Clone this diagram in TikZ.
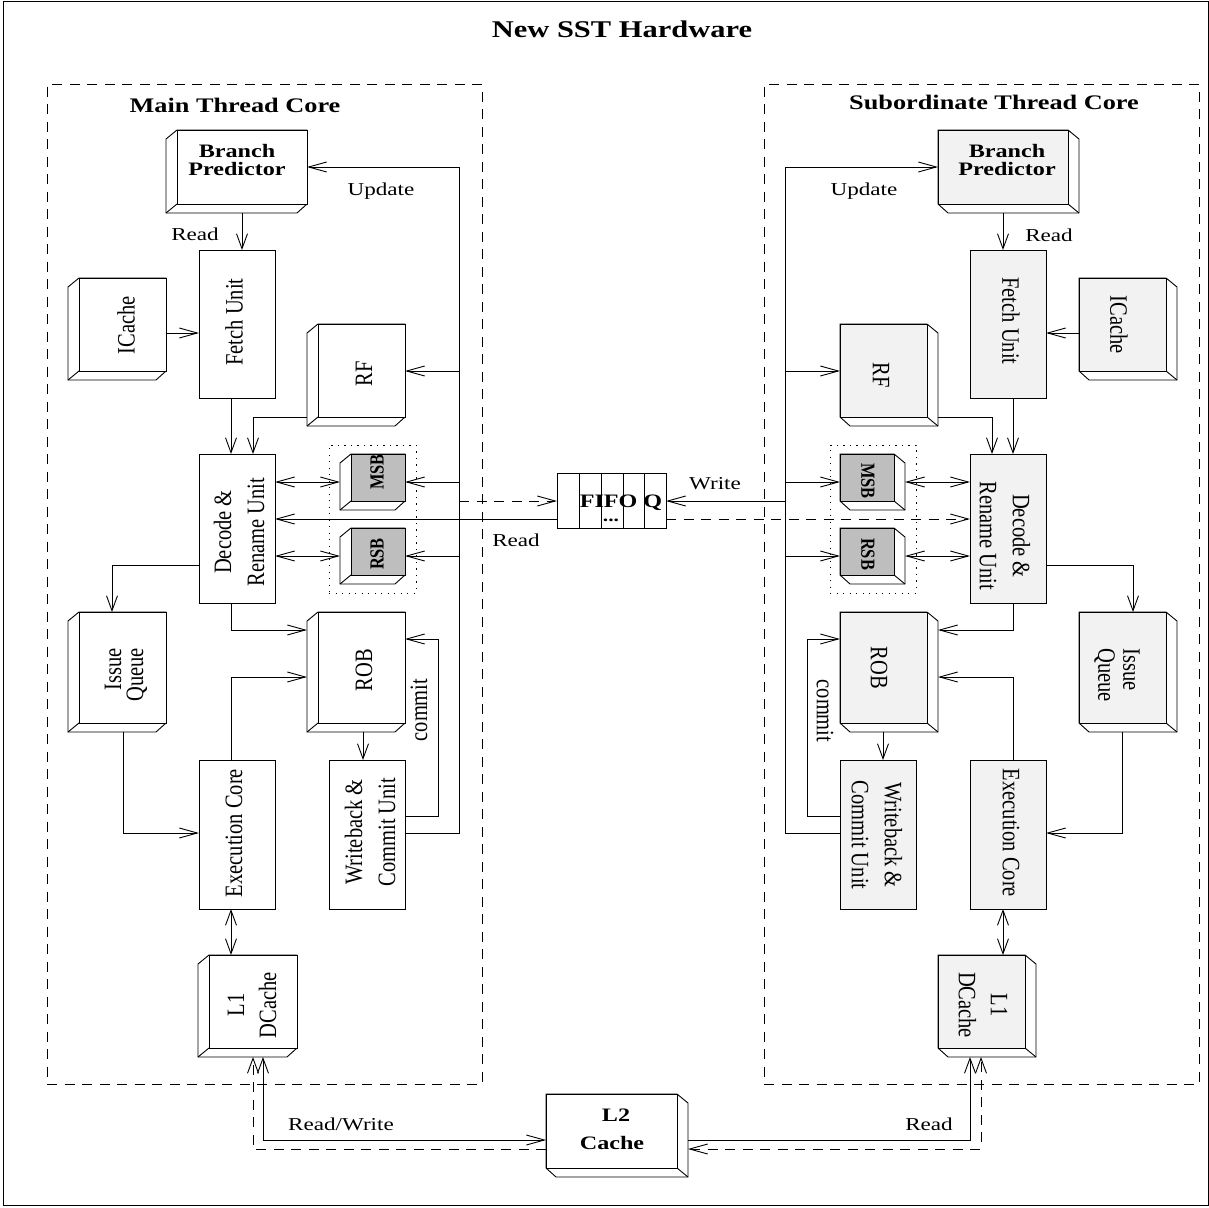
\documentclass[tikz,border=0pt]{standalone}
\usepackage{fontspec}
\setmainfont{Liberation Serif}
\newfontfamily\flatfont[FakeStretch=1.27]{Liberation Serif}
\newfontfamily\tallfont[FakeStretch=0.82]{Liberation Serif}
\usetikzlibrary{arrows.meta,fit}
\definecolor{subfill}{gray}{0.95}
\definecolor{regfill}{gray}{0.745}
\tikzset{
  every path/.style={line width=0.9pt},
  tipH/.tip={Straight Barb[length=18pt,width=10pt]},
  tipV/.tip={Straight Barb[length=15pt,width=11pt]},
  dashline/.style={dash pattern=on 10pt off 7.5pt},
  corebox/.style={draw,dashline,inner sep=0pt,outer sep=0pt},
  groupbox/.style={draw,dash pattern=on 1.3pt off 5.2pt,inner sep=0pt,outer sep=0pt},
  plainbox/.style={draw,inner sep=0pt,outer sep=0pt},
  ghostbox/.style={inner sep=0pt,outer sep=0pt},
  flat/.style={font=\flatfont\fontsize{18.2}{21}\selectfont,inner sep=0pt},
  head/.style={font=\flatfont\bfseries\fontsize{#1}{17.5}\selectfont,inner sep=0pt,align=center},
  uptext/.style={rotate=90,font=\tallfont\fontsize{25}{#1}\selectfont,inner sep=0pt,align=center},
  downtext/.style={rotate=-90,font=\tallfont\fontsize{25}{#1}\selectfont,inner sep=0pt,align=center},
  regtext/.style={font=\tallfont\bfseries\fontsize{20}{25}\selectfont},
}
% plain unit: name, corner, corner, fill
\newcommand{\unitblock}[4]{\node[plainbox,fill=#4,fit={(#2)(#3)}] (#1) {};}
% cube with its depth to the lower left
\newcommand{\cubeleft}[4]{
  \node[ghostbox,fit={(#2)(#3)}] (#1) {};
  \draw[fill=white] ([yshift=-9pt]#1.north west) -- ([xshift=11pt]#1.north west) -- (#1.north east)
    -- ([yshift=9pt]#1.south east) -- ([xshift=-10pt]#1.south east) -- (#1.south west) -- cycle;
  \draw[fill=#4] ([xshift=11pt]#1.north west) rectangle ([yshift=9pt]#1.south east);
  \draw ([xshift=11pt,yshift=9pt]#1.south west) -- (#1.south west);
}
% cube with its depth to the lower right
\newcommand{\cuberight}[4]{
  \node[ghostbox,fit={(#2)(#3)}] (#1) {};
  \draw[fill=white] (#1.north west) -- ([xshift=-11pt]#1.north east) -- ([yshift=-9pt]#1.north east)
    -- (#1.south east) -- ([xshift=10pt]#1.south west) -- ([yshift=9pt]#1.south west) -- cycle;
  \draw[fill=#4] (#1.north west) rectangle ([xshift=-11pt,yshift=9pt]#1.south east);
  \draw ([xshift=-11pt,yshift=9pt]#1.south east) -- (#1.south east);
}
\begin{document}
\begin{tikzpicture}[x=1pt,y=-1pt]
\useasboundingbox (0,0) rectangle (1209,1207);
\node[plainbox,fit={(3,1)(1208,1205)}] (frame) {};
\node[head=24] (title) at (622,29) {New SST Hardware};
\node[corebox,fit={(47,84)(482,1084)}] (mainCore) {};
\node[corebox,fit={(764,84)(1199,1084)}] (subCore) {};
\node[head=20.7] (mainName) at (235,105) {Main Thread Core};
\node[head=20.7] (subName) at (994,102) {Subordinate Thread Core};
\node[groupbox,fit={(329,445)(416,593)}] (groupL) {};
\node[groupbox,fit={(830,445)(916,593)}] (groupR) {};

% main thread core
\cubeleft{bpL}{166,130}{307,213}{white}
\unitblock{fetchL}{199,250}{275,398}{white}
\cubeleft{icacheL}{68,278}{166,380}{white}
\cubeleft{rfL}{307,324}{405,426}{white}
\unitblock{decodeL}{199,454}{275,603}{white}
\cubeleft{msbL}{340,454}{405,510}{regfill}
\cubeleft{rsbL}{340,528}{405,584}{regfill}
\cubeleft{iqL}{68,612}{166,732}{white}
\cubeleft{robL}{307,612}{405,732}{white}
\unitblock{execL}{199,760}{275,909}{white}
\unitblock{wbL}{329,760}{405,909}{white}
\cubeleft{dcacheL}{198,955}{297,1057}{white}

% subordinate thread core
\cuberight{bpR}{938,130}{1079,213}{subfill}
\unitblock{fetchR}{970,250}{1046,398}{subfill}
\cuberight{icacheR}{1079,278}{1177,380}{subfill}
\cuberight{rfR}{840,324}{938,426}{subfill}
\unitblock{decodeR}{970,454}{1046,603}{subfill}
\cuberight{msbR}{840,454}{905,510}{regfill}
\cuberight{rsbR}{840,528}{905,584}{regfill}
\cuberight{iqR}{1079,612}{1177,732}{subfill}
\cuberight{robR}{840,612}{938,732}{subfill}
\unitblock{execR}{970,760}{1046,909}{subfill}
\unitblock{wbR}{840,760}{916,909}{subfill}
\cuberight{dcacheR}{938,955}{1036,1057}{subfill}

% shared parts
\cuberight{ltwo}{546,1094}{688,1177}{white}
\unitblock{fifo}{557,473}{666,528}{white}
\foreach \x/\n in {579/a,601/b,623/c,644/d}
  \coordinate (fifo\n) at (\x,473);
\foreach \n in {a,b,c,d}
  \draw (fifo\n) -- (fifo\n |- fifo.south);

% labels
\node[head=19] (bpLtext) at (237,160) {Branch\\Predictor};
\node[head=19] (bpRtext) at (1007,160) {Branch\\Predictor};
\node[uptext=25] (icacheLtext) at (126,325) {ICache};
\node[downtext=25] (icacheRtext) at (1119,325) {ICache};
\node[uptext=25] (fetchLtext) at (234,322) {Fetch Unit};
\node[downtext=25] (fetchRtext) at (1011,321) {Fetch Unit};
\node[uptext=25] (rfLtext) at (364,374) {RF};
\node[downtext=25] (rfRtext) at (881,375) {RF};
\node[uptext=33] (decodeLtext) at (239,532) {Decode \&\\Rename Unit};
\node[downtext=33] (decodeRtext) at (1005,536) {Decode \&\\Rename Unit};
\node[uptext=25,regtext] (msbLtext) at (377,472) {MSB};
\node[uptext=25,regtext] (rsbLtext) at (377,554) {RSB};
\node[downtext=25,regtext] (msbRtext) at (868,481) {MSB};
\node[downtext=25,regtext] (rsbRtext) at (868,554) {RSB};
\node[uptext=22,align=right] (iqLtext) at (126,675) {Issue\\Queue};
\node[downtext=25,align=left] (iqRtext) at (1117,675) {Issue\\Queue};
\node[uptext=25] (robLtext) at (364,670) {ROB};
\node[downtext=25] (robRtext) at (879,668) {ROB};
\node[uptext=25] (commitLtext) at (419,710) {commit};
\node[downtext=25] (commitRtext) at (825,711) {commit};
\node[uptext=25] (execLtext) at (234,833) {Execution Core};
\node[downtext=25] (execRtext) at (1011,833) {Execution Core};
\node[uptext=33] (wbLtext) at (370,832) {Writeback \&\\Commit Unit};
\node[downtext=33] (wbRtext) at (877,835) {Writeback \&\\Commit Unit};
\node[uptext=32] (dcacheLtext) at (252,1005) {L1\\DCache};
\node[downtext=32] (dcacheRtext) at (983,1005) {L1\\DCache};
\node[head=19,font=\flatfont\bfseries\fontsize{19}{28}\selectfont] (ltwotext) at (612,1129) {\hspace*{8pt}L2\\Cache};
\node[head=19] (fifotext) at (621,503) {FIFO Q};
\node[head=17] (fifodots) at (611,520) {...};
\node[flat] (readBpL) at (195,234) {Read};
\node[flat] (readBpR) at (1049,235) {Read};
\node[flat] (updateL) at (381,191) {Update};
\node[flat] (updateR) at (864,191) {Update};
\node[flat] (writeFifo) at (715,484) {Write};
\node[flat] (readFifo) at (516,540) {Read};
\node[flat] (readWrite) at (341,1124) {Read/Write};
\node[flat] (readLtwo) at (929,1124) {Read};

% main thread core connectors
\coordinate (busLt) at (459,167);
\coordinate (busLb) at (459,833);
\draw[-{tipH}] (wbL.east |- busLb) -- (busLb) -- (busLt) -- (bpL.east |- busLt);
\draw[-{tipH}] (busLb |- 0,371) -- (rfL.east |- 0,371);
\draw[-{tipH}] (busLb |- 0,482) -- (msbL.east |- 0,482);
\draw[-{tipH}] (busLb |- 0,556) -- (rsbL.east |- 0,556);
\draw[-{tipV}] (bpL.south -| 242,0) -- (fetchL.north -| 242,0);
\draw[-{tipH}] (icacheL.east |- 0,333) -- (fetchL.west |- 0,333);
\draw[-{tipV}] (fetchL.south -| 231,0) -- (decodeL.north -| 231,0);
\draw[-{tipV}] (rfL.west |- 0,417) -- (253,417) -- (decodeL.north -| 253,0);
\draw[{tipH}-{tipH}] (decodeL.east |- 0,482) -- (msbL.west |- 0,482);
\draw[{tipH}-{tipH}] (decodeL.east |- 0,556) -- (rsbL.west |- 0,556);
\draw[-{tipV}] (decodeL.west |- 0,565) -- (112,565) -- (iqL.north -| 112,0);
\draw[-{tipH}] (decodeL.south -| 231,0) -- (231,630) -- (robL.west |- 0,630);
\draw[-{tipH}] (iqL.south -| 123,0) -- (123,833) -- (execL.west |- 0,833);
\draw[-{tipH}] (execL.north -| 231,0) -- (231,677) -- (robL.west |- 0,677);
\draw[-{tipV}] (robL.south -| 363,0) -- (wbL.north -| 363,0);
\draw[-{tipH}] (wbL.east |- 0,816) -- (438,816) -- (438,639) -- (robL.east |- 0,639);
\draw[{tipV}-{tipV}] (execL.south -| 231,0) -- (dcacheL.north -| 231,0);

% subordinate thread core connectors
\coordinate (busRt) at (785,167);
\coordinate (busRb) at (785,833);
\draw[-{tipH}] (wbR.west |- busRb) -- (busRb) -- (busRt) -- (bpR.west |- busRt);
\draw[-{tipH}] (busRb |- 0,371) -- (rfR.west |- 0,371);
\draw[-{tipH}] (busRb |- 0,482) -- (msbR.west |- 0,482);
\draw[-{tipH}] (busRb |- 0,556) -- (rsbR.west |- 0,556);
\draw[-{tipV}] (bpR.south -| 1003,0) -- (fetchR.north -| 1003,0);
\draw[-{tipH}] (icacheR.west |- 0,333) -- (fetchR.east |- 0,333);
\draw[-{tipV}] (fetchR.south -| 1013,0) -- (decodeR.north -| 1013,0);
\draw[-{tipV}] (rfR.east |- 0,417) -- (992,417) -- (decodeR.north -| 992,0);
\draw[{tipH}-{tipH}] (decodeR.west |- 0,482) -- (msbR.east |- 0,482);
\draw[{tipH}-{tipH}] (decodeR.west |- 0,556) -- (rsbR.east |- 0,556);
\draw[-{tipV}] (decodeR.east |- 0,565) -- (1133,565) -- (iqR.north -| 1133,0);
\draw[-{tipH}] (decodeR.south -| 1013,0) -- (1013,630) -- (robR.east |- 0,630);
\draw[-{tipH}] (iqR.south -| 1122,0) -- (1122,833) -- (execR.east |- 0,833);
\draw[-{tipH}] (execR.north -| 1013,0) -- (1013,677) -- (robR.east |- 0,677);
\draw[-{tipV}] (robR.south -| 883,0) -- (wbR.north -| 883,0);
\draw[-{tipH}] (wbR.west |- 0,816) -- (807,816) -- (807,639) -- (robR.west |- 0,639);
\draw[{tipV}-{tipV}] (execR.south -| 1003,0) -- (dcacheR.north -| 1003,0);

% FIFO connectors
\draw[dashline,-{tipH}] (busLb |- 0,501) -- (fifo.west |- 0,501);
\draw[-{tipH}] (fifo.west |- 0,519) -- (decodeL.east |- 0,519);
\draw[-{tipH}] (busRb |- 0,501) -- (fifo.east |- 0,501);
\draw[dashline,-{tipH}] (fifo.east |- 0,519) -- (decodeR.west |- 0,519);

% L2 connectors
\draw[{tipV}-{tipH}] (dcacheL.south -| 263,0) -- (263,1140) -- (ltwo.west |- 0,1140);
\draw[dashline,-{tipV}] (ltwo.west |- 0,1149) -- (253,1149) -- (dcacheL.south -| 253,0);
\draw[-{tipV}] (ltwo.east |- 0,1140) -- (970,1140) -- (dcacheR.south -| 970,0);
\draw[dashline,{tipH}-{tipV}] (ltwo.east |- 0,1149) -- (981,1149) -- (dcacheR.south -| 981,0);
\end{tikzpicture}
\end{document}
